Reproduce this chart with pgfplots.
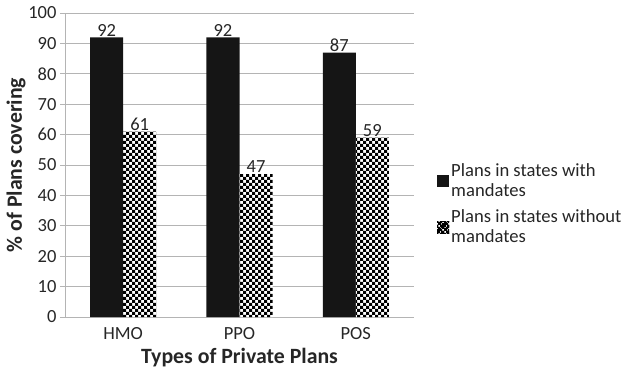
\documentclass[border=0pt]{standalone}
\usepackage{fontspec}
\setmainfont{Carlito}
\usepackage{pgfplots}
\pgfplotsset{compat=1.18}
\usetikzlibrary{patterns}
\definecolor{barblack}{HTML}{151515}
\definecolor{gridgray}{HTML}{B4B4B4}
\definecolor{txt}{HTML}{262626}
\pgfdeclarepatternformonly{smallchecker}{\pgfqpoint{-.1pt}{-.1pt}}{\pgfqpoint{6.1pt}{6.1pt}}{\pgfqpoint{6pt}{6pt}}{%
  \pgfpathrectangle{\pgfqpoint{0pt}{0pt}}{\pgfqpoint{3.05pt}{3.05pt}}%
  \pgfpathrectangle{\pgfqpoint{3pt}{3pt}}{\pgfqpoint{3.05pt}{3.05pt}}%
  \pgfusepath{fill}}
\pgfdeclarepatternformonly{tinychecker}{\pgfqpoint{-.1pt}{-.1pt}}{\pgfqpoint{4.1pt}{4.1pt}}{\pgfqpoint{4pt}{4pt}}{%
  \pgfpathrectangle{\pgfqpoint{0pt}{0pt}}{\pgfqpoint{2.05pt}{2.05pt}}%
  \pgfpathrectangle{\pgfqpoint{2pt}{2pt}}{\pgfqpoint{2.05pt}{2.05pt}}%
  \pgfusepath{fill}}
\begin{document}
\begin{tikzpicture}
\begin{axis}[
  name=ax, at={(0,0)}, anchor=south west,
  scale only axis, width=349pt, height=304pt,
  ybar=0pt, bar width=0.284,
  xmin=-0.5, xmax=2.5, ymin=0, ymax=100,
  xtick={0,1,2}, xticklabels={HMO,PPO,POS},
  ytick={0,10,...,100},
  major x tick style={draw=none},
  ytick style={gridgray, line width=0.8pt}, tick align=outside, major tick length=5pt,
  ymajorgrids, grid style={gridgray, line width=0.8pt},
  axis x line*=bottom, axis y line*=left,
  axis line style={gridgray, line width=0.8pt, -},
  tick label style={font=\fontsize{18.5}{20}\selectfont, text=txt},
  /pgf/number format/assume math mode=true,
  xticklabel style={yshift=-2pt},
  xlabel={\textbf{Types of Private Plans}},
  ylabel={\textbf{\% of Plans covering}},
  label style={font=\fontsize{21.8}{23}\selectfont, text=txt},
  xlabel style={yshift=-2pt},
  ylabel style={yshift=-4pt},
  nodes near coords,
  nodes near coords style={font=\fontsize{18.5}{20}\selectfont, text=txt, inner sep=1pt},
  legend style={at={(1.066,0.372)}, anchor=west, draw=none, fill=none,
    font=\fontsize{18.6}{20}\selectfont, text=txt,
    cells={align=left, anchor=west},
    nodes={inner xsep=2pt},
    row sep=8pt, inner sep=0pt},
  legend cell align=left,
]
\addplot[fill=barblack, draw=none,
  legend image code/.code={\fill[barblack] (0pt,-6pt) rectangle (12pt,6pt);}]
  coordinates {(0,92) (1,92) (2,87)};
\addlegendentry{Plans in states with\\mandates}
\addplot[fill=white, draw=none, postaction={pattern=smallchecker, pattern color=black},
  legend image code/.code={\fill[white] (0pt,-6pt) rectangle (12pt,6pt);
     \fill[pattern=tinychecker, pattern color=black] (0pt,-6pt) rectangle (12pt,6pt);}]
  coordinates {(0,61) (1,47) (2,59)};
\addlegendentry{Plans in states without\\mandates}
\end{axis}
\pgfresetboundingbox
\path (-65pt,-58pt) rectangle (559pt,317pt);
\end{tikzpicture}
\end{document}
